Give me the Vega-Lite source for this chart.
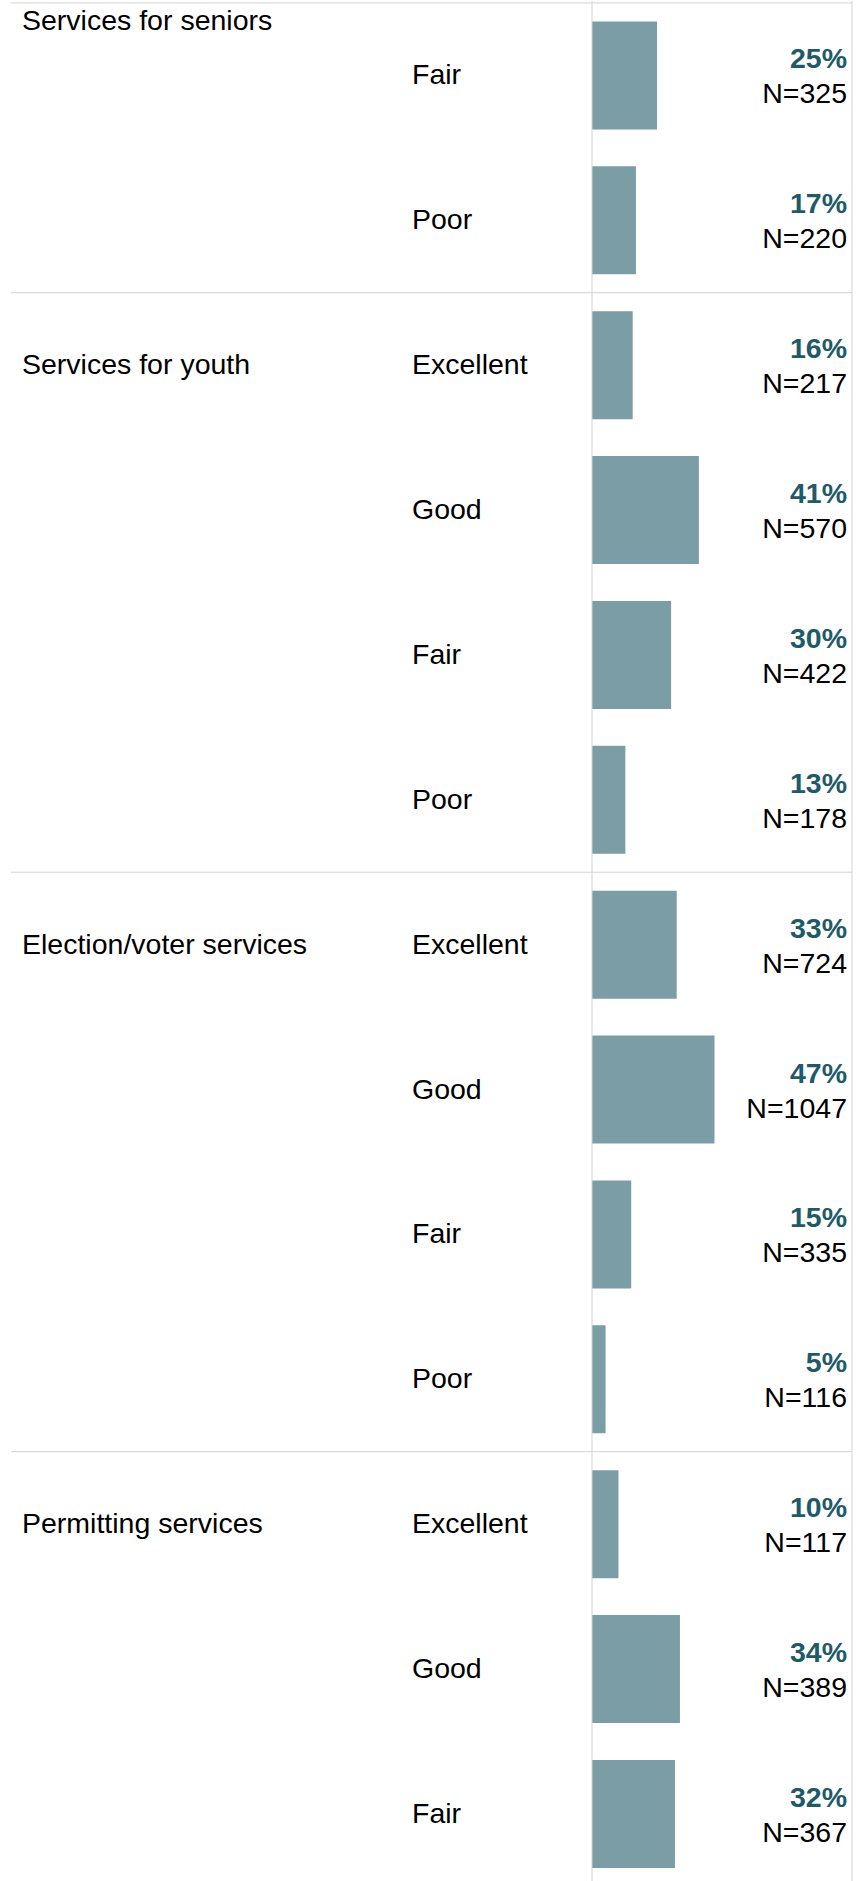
{
  "$schema": "https://vega.github.io/schema/vega-lite/v6.json",
  "padding": {"left": 10, "top": 0, "right": 0, "bottom": 0},
  "spacing": 0,
  "bounds": "flush",
  "background": "white",
  "config": {
    "view": {"stroke": null},
    "scale": {"continuousPadding": 0},
    "font": "Liberation Sans",
    "text": {"font": "Liberation Sans", "fontSize": 28.5, "color": "#000000"}
  },
  "datasets": {
    "rows": [
      {"group": "Services for seniors", "rating": "Fair", "row": 0, "pct": 0.25, "n": 325},
      {"group": "Services for seniors", "rating": "Poor", "row": 1, "pct": 0.169, "n": 220},
      {"group": "Services for youth", "rating": "Excellent", "row": 2, "pct": 0.1565, "n": 217},
      {"group": "Services for youth", "rating": "Good", "row": 3, "pct": 0.411, "n": 570},
      {"group": "Services for youth", "rating": "Fair", "row": 4, "pct": 0.3043, "n": 422},
      {"group": "Services for youth", "rating": "Poor", "row": 5, "pct": 0.1283, "n": 178},
      {"group": "Election/voter services", "rating": "Excellent", "row": 6, "pct": 0.3258, "n": 724},
      {"group": "Election/voter services", "rating": "Good", "row": 7, "pct": 0.4712, "n": 1047},
      {"group": "Election/voter services", "rating": "Fair", "row": 8, "pct": 0.1508, "n": 335},
      {"group": "Election/voter services", "rating": "Poor", "row": 9, "pct": 0.0522, "n": 116},
      {"group": "Permitting services", "rating": "Excellent", "row": 10, "pct": 0.1017, "n": 117},
      {"group": "Permitting services", "rating": "Good", "row": 11, "pct": 0.3383, "n": 389},
      {"group": "Permitting services", "rating": "Fair", "row": 12, "pct": 0.3191, "n": 367}
    ],
    "groups": [
      {"group": "Services for seniors", "first": -2},
      {"group": "Services for youth", "first": 2},
      {"group": "Election/voter services", "first": 6},
      {"group": "Permitting services", "first": 10}
    ],
    "bounds": [{"b": -0.5}, {"b": 1.5}, {"b": 5.5}, {"b": 9.5}],
    "edges": [{"share": 0}, {"share": 1}]
  },
  "hconcat": [
    {
      "width": 391,
      "height": 1881,
      "layer": [
        {
          "data": {"name": "bounds"},
          "mark": {"type": "rule", "color": "#d4d4d4", "strokeWidth": 1},
          "encoding": {
            "y": {"field": "b", "type": "quantitative", "axis": null,
                  "scale": {"domain": [-0.5135, 12.47], "reverse": true, "nice": false, "zero": false, "clamp": true, "padding": 0}}
          }
        },
        {
          "data": {"name": "groups"},
          "transform": [{"filter": "datum.first >= 0"}],
          "mark": {"type": "text", "align": "left", "baseline": "middle", "x": 0, "dx": 11},
          "encoding": {
            "y": {"field": "first", "type": "quantitative", "axis": null,
                  "scale": {"domain": [-0.5135, 12.47], "reverse": true, "nice": false, "zero": false, "clamp": true, "padding": 0}},
            "text": {"field": "group"}
          }
        },
        {
          "data": {"name": "groups"},
          "transform": [{"filter": "datum.first < 0"}],
          "mark": {"type": "text", "align": "left", "baseline": "alphabetic", "x": 0, "dx": 11, "dy": 29},
          "encoding": {
            "y": {"field": "first", "type": "quantitative", "axis": null,
                  "scale": {"domain": [-0.5135, 12.47], "reverse": true, "nice": false, "zero": false, "clamp": true, "padding": 0}},
            "text": {"field": "group"}
          }
        }
      ]
    },
    {
      "width": 190,
      "height": 1881,
      "layer": [
        {
          "data": {"name": "bounds"},
          "mark": {"type": "rule", "color": "#d4d4d4", "strokeWidth": 1},
          "encoding": {
            "y": {"field": "b", "type": "quantitative", "axis": null,
                  "scale": {"domain": [-0.5135, 12.47], "reverse": true, "nice": false, "zero": false, "padding": 0}}
          }
        },
        {
          "data": {"name": "rows"},
          "mark": {"type": "text", "align": "left", "baseline": "middle", "x": 0, "dx": 10},
          "encoding": {
            "y": {"field": "row", "type": "quantitative", "axis": null,
                  "scale": {"domain": [-0.5135, 12.47], "reverse": true, "nice": false, "zero": false, "padding": 0}},
            "text": {"field": "rating"}
          }
        }
      ]
    },
    {
      "width": 260,
      "height": 1881,
      "layer": [
        {
          "data": {"name": "bounds"},
          "mark": {"type": "rule", "color": "#d4d4d4", "strokeWidth": 1},
          "encoding": {
            "y": {"field": "b", "type": "quantitative", "axis": null,
                  "scale": {"domain": [-0.5135, 12.47], "reverse": true, "nice": false, "zero": false, "padding": 0}}
          }
        },
        {
          "data": {"name": "rows"},
          "mark": {"type": "bar", "orient": "horizontal", "size": 108, "color": "#7b9da5"},
          "encoding": {
            "y": {"field": "row", "type": "quantitative", "axis": null,
                  "scale": {"domain": [-0.5135, 12.47], "reverse": true, "nice": false, "zero": false, "padding": 0}},
            "x": {"field": "pct", "type": "quantitative", "axis": null,
                  "scale": {"domain": [0, 1], "nice": false, "zero": true, "padding": 0}}
          }
        },
        {
          "data": {"name": "edges"},
          "mark": {"type": "rule", "color": "#d4d4d4", "strokeWidth": 1},
          "encoding": {"x": {"field": "share", "type": "quantitative"}}
        },
        {
          "data": {"name": "rows"},
          "mark": {"type": "text", "align": "right", "baseline": "alphabetic", "dx": -5, "dy": -7, "fontWeight": "bold", "color": "#1f5a67"},
          "encoding": {
            "y": {"field": "row", "type": "quantitative", "axis": null,
                  "scale": {"domain": [-0.5135, 12.47], "reverse": true, "nice": false, "zero": false, "padding": 0}},
            "x": {"datum": 1, "type": "quantitative"},
            "text": {"field": "pct", "type": "quantitative", "format": ".0%"}
          }
        },
        {
          "data": {"name": "rows"},
          "transform": [{"calculate": "'N=' + datum.n", "as": "nlabel"}],
          "mark": {"type": "text", "align": "right", "baseline": "alphabetic", "dx": -5, "dy": 28, "color": "#000000"},
          "encoding": {
            "y": {"field": "row", "type": "quantitative", "axis": null,
                  "scale": {"domain": [-0.5135, 12.47], "reverse": true, "nice": false, "zero": false, "padding": 0}},
            "x": {"datum": 1, "type": "quantitative"},
            "text": {"field": "nlabel"}
          }
        }
      ]
    }
  ]
}
